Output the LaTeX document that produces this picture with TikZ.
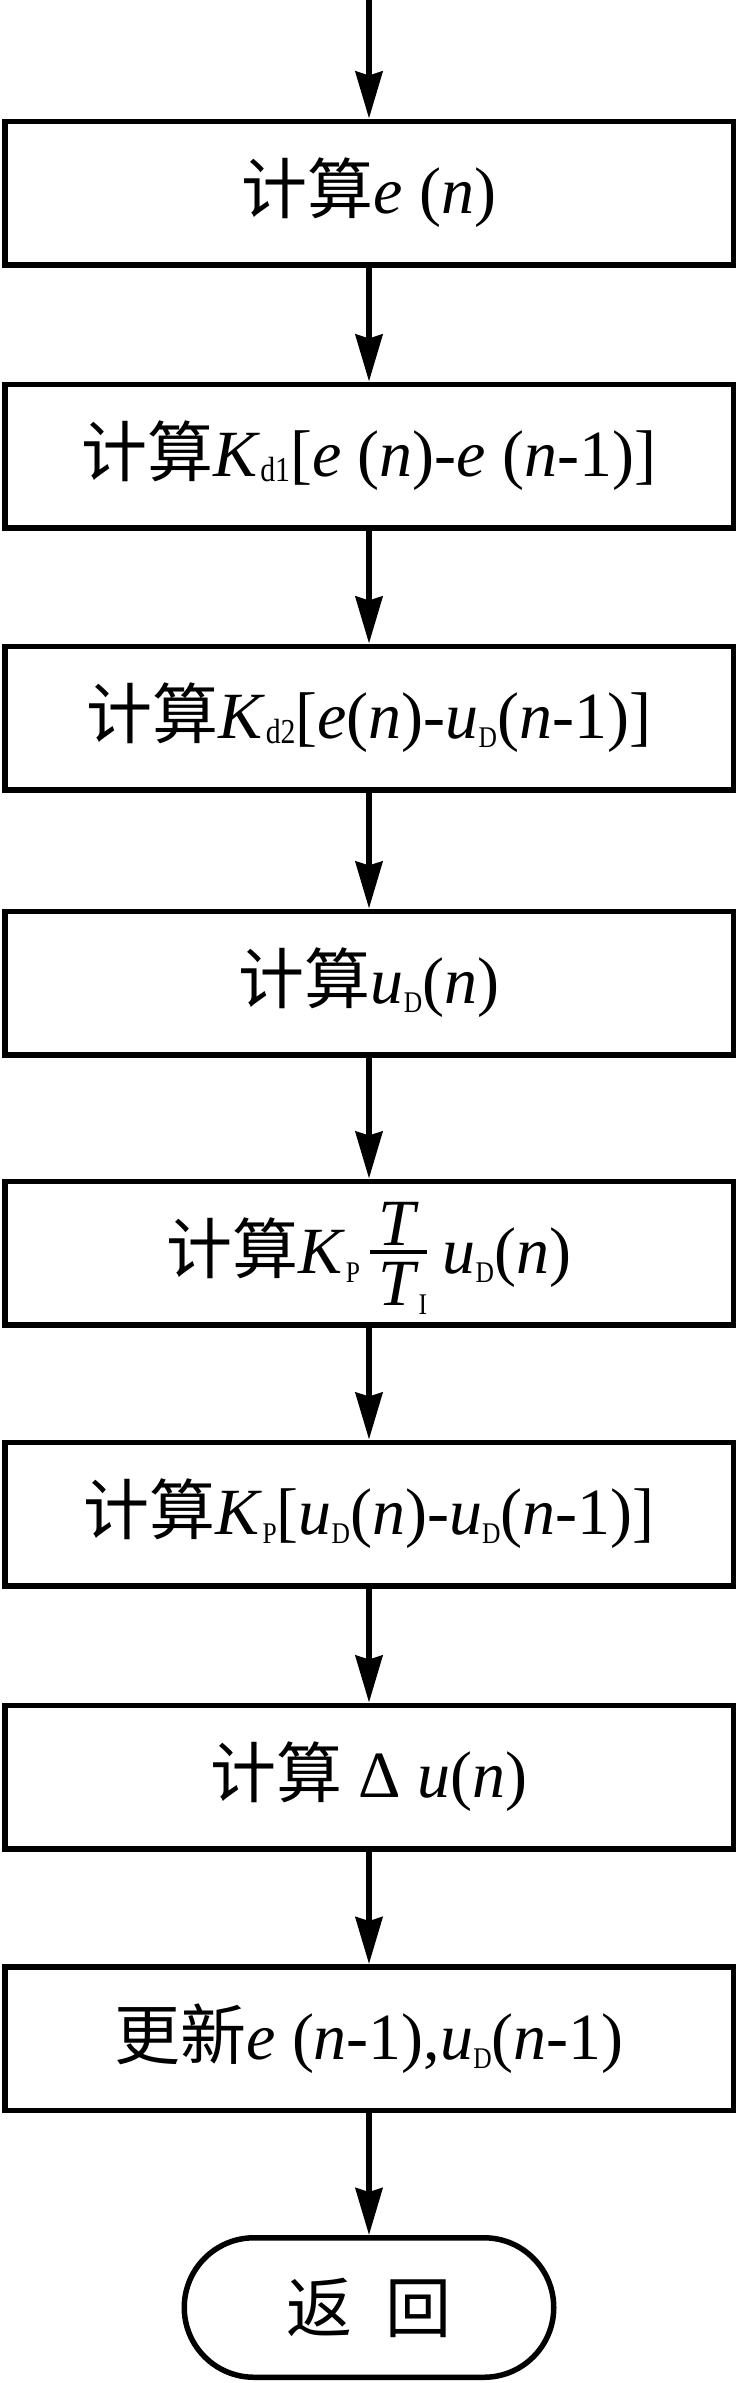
\documentclass[tikz,border=0pt]{standalone}
\usepackage{fontspec}
\setmainfont{Liberation Serif}
\newfontfamily\cjkf{Noto Sans CJK SC}
\usetikzlibrary{arrows.meta,shapes.misc}
\newcommand\cj[1]{{\cjkf #1}}
\newcommand\vv[1]{\textit{#1}}
\newcommand\sbs[1]{\raisebox{-4.5pt}{\scalebox{0.85}[1]{\fontsize{15}{16}\selectfont #1}}}
\newcommand\sbd[1]{\raisebox{-2.5pt}{\scalebox{0.85}[1]{\fontsize{17.5}{18}\selectfont #1}}}
\newdimen\fracw
\newbox\fracbox
\newcommand\myfrac[2]{%
 \setbox\fracbox=\hbox{#1}%
 \fracw=\wd\fracbox \advance\fracw by 8pt
 \kern5pt
 \rlap{\raisebox{14pt}[0pt][0pt]{\hbox to\fracw{\hss\box\fracbox\hss}}}%
 \rlap{\raisebox{9.75pt}[0pt][0pt]{\rule{\fracw}{2pt}}}%
 \raisebox{-16pt}[0pt][0pt]{\hbox to\fracw{\hss#2\hss}}%
 \kern8pt}
\begin{document}
\begin{tikzpicture}[x=0.5pt,y=-0.5pt,
  box/.style={draw,line width=2.75pt,minimum width=364.25pt,minimum height=71.75pt,inner sep=0pt,font=\fontsize{33}{40}\selectfont},
  term/.style={draw,line width=2.75pt,rounded rectangle,minimum width=184.75pt,minimum height=69.75pt,inner sep=0pt,font=\fontsize{33}{40}\selectfont},
  flow/.style={line width=2.75pt,-{Stealth[length=23.5pt,width=13.5pt,inset=2pt]}}]
\useasboundingbox (0,0) rectangle (737,2383);
\coordinate (start) at (369,0);
\node[box] (b1) at (369,193) {\cj{计算}\vv{e} (\vv{n})};
\node[box] (b2) at (369,456) {\cj{计算}\vv{K}\sbd{d1}[\vv{e} (\vv{n})-\vv{e} (\vv{n}-1)]};
\node[box] (b3) at (369,718) {\cj{计算}\vv{K}\sbd{d2}[\vv{e}(\vv{n})-\vv{u}\sbs{D}(\vv{n}-1)]};
\node[box] (b4) at (369,983) {\cj{计算}\vv{u}\sbs{D}(\vv{n})};
\node[box] (b5) at (369,1253) {\cj{计算}\vv{K}\sbs{P}\myfrac{\vv{T}}{\vv{T}\rlap{\sbs{I}}}\vv{u}\sbs{D}(\vv{n})};
\node[box] (b6) at (369,1514) {\cj{计算}\vv{K}\sbs{P}[\vv{u}\sbs{D}(\vv{n})-\vv{u}\sbs{D}(\vv{n}-1)]};
\node[box] (b7) at (369,1777) {\cj{计算} Δ \vv{u}(\vv{n})};
\node[box] (b8) at (369,2038.5) {\cj{更新}\vv{e} (\vv{n}-1),\vv{u}\sbs{D}(\vv{n}-1)};
\node[term] (ret) at (369,2307.5) {\cj{返\hspace{0.5em}回}};
\draw[flow] (start) -- (b1.north);
\draw[flow] (b1.south) -- (b2.north);
\draw[flow] (b2.south) -- (b3.north);
\draw[flow] (b3.south) -- (b4.north);
\draw[flow] (b4.south) -- (b5.north);
\draw[flow] (b5.south) -- (b6.north);
\draw[flow] (b6.south) -- (b7.north);
\draw[flow] (b7.south) -- (b8.north);
\draw[flow] (b8.south) -- (ret.north);
\end{tikzpicture}
\end{document}
